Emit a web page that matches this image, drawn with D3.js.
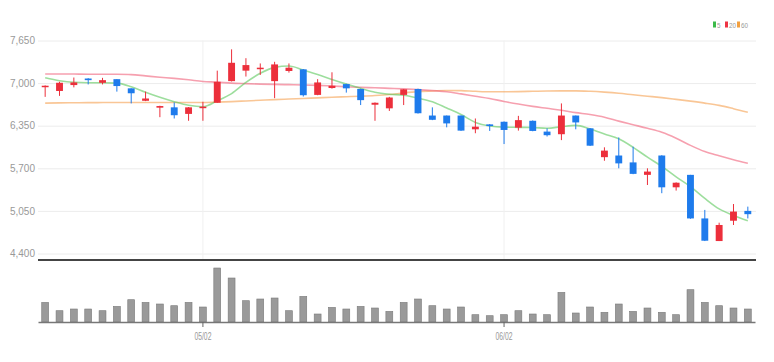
<!DOCTYPE html>
<html>
<head>
<meta charset="utf-8">
<script src="https://cdn.jsdelivr.net/npm/d3@7"></script>
<style>
  body { margin: 0; background: #fff; }
  text { font-family: "Liberation Sans", Arial, sans-serif; fill: #999; }
</style>
</head>
<body>
<div id="vis"></div>
<script>
// trading days
const DATES = ["04/14","04/17","04/18","04/19","04/20","04/21","04/24","04/25","04/26","04/27",
  "04/28","05/02","05/03","05/04","05/08","05/09","05/10","05/11","05/12","05/15",
  "05/16","05/17","05/18","05/19","05/22","05/23","05/24","05/25","05/26","05/30",
  "05/31","06/01","06/02","06/05","06/07","06/08","06/09","06/12","06/13","06/14",
  "06/15","06/16","06/19","06/20","06/21","06/22","06/23","06/26","06/27","06/28"];

const OPEN = [6940,6880,6970,7070,7005,7060,6920,6730,6625,6630,6530,6620,6700,7030,7190,7220,7030,7185,7210,6820,
  6925,6985,6910,6670,6615,6820,6910,6505,6505,6505,6295,6370,6410,6320,6425,6260,6220,6505,6310,5870,
  5895,5790,5600,5895,5410,5600,4935,4590,4900,5050];
const HIGH = [6965,7020,7085,7075,7080,7060,6920,6870,6655,6705,6635,6715,7190,7515,7380,7300,7325,7300,7215,7060,
  7165,6990,6915,6705,6790,6910,6915,6630,6505,6505,6460,6375,6415,6500,6430,6310,6690,6505,6315,6020,
  6170,6030,5700,5900,5485,5600,5065,4870,5155,5115];
const LOW = [6790,6805,6935,6980,6980,6870,6690,6725,6480,6460,6425,6425,6700,7025,7100,7125,6770,7160,6795,6815,
  6915,6855,6665,6425,6575,6665,6535,6435,6325,6270,6235,6270,6070,6275,6265,6185,6130,6295,6040,5815,
  5700,5610,5445,5320,5360,4930,4590,4590,4835,4935];
const CLOSE = [6960,7005,7010,7045,7045,6955,6845,6765,6650,6510,6630,6640,7020,7310,7275,7235,7285,7235,6815,7010,
  6960,6920,6740,6700,6780,6905,6540,6440,6385,6275,6335,6345,6285,6435,6270,6205,6505,6400,6045,5970,
  5775,5615,5650,5410,5480,4935,4595,4835,5040,5000];
const VOLUME = [196000,113000,130000,130000,113000,156000,223000,196000,180000,163000,196000,150000,540000,440000,213000,
  230000,240000,113000,256000,80000,146000,130000,156000,140000,106000,196000,230000,163000,130000,150000,
  73000,63000,73000,113000,80000,73000,296000,90000,150000,97000,180000,106000,140000,97000,73000,
  323000,196000,163000,140000,130000];

// moving averages
const MA5 = [7082,7037,7012,7005,7005,7000,6945,6860,6783,6716,6661,6640,6730,6840,7010,7150,7240,7262,7200,7130,
  7055,6985,6920,6860,6830,6815,6770,6716,6620,6520,6400,6345,6328,6325,6322,6310,6335,6355,6300,6225,
  6150,6020,5870,5730,5570,5420,5240,5080,4980,4900];
const MA20 = [7140,7140,7138,7136,7135,7134,7130,7110,7090,7072,7050,7025,7015,7000,6992,6985,6980,6976,6972,6965,
  6955,6945,6935,6928,6920,6912,6900,6885,6868,6835,6800,6765,6720,6680,6645,6615,6585,6550,6520,6480,
  6420,6365,6310,6250,6160,6050,5955,5890,5830,5775];
const MA60 = [6695,6698,6700,6702,6703,6704,6705,6705,6705,6704,6703,6703,6710,6718,6728,6738,6748,6757,6766,6775,
  6784,6792,6800,6810,6825,6850,6870,6880,6888,6885,6875,6868,6868,6870,6875,6880,6882,6882,6875,6862,
  6845,6822,6800,6778,6752,6725,6695,6660,6610,6555];

const PRICE_TICKS = [4400, 5050, 5700, 6350, 7000, 7650];
const DATE_TICKS = ["05/02", "06/02"];
const MA_NAMES = ["5", "20", "60"];

//Frame constants
const FRAME_WIDTH = 774;
const FRAME_HEIGHT = 362;
const LEFT = 38, RIGHT = 755;
const PRICE_TOP = 40.5, PRICE_BOTTOM = 253.5, PRICE_BASE = 260;
const VOL_TOP = 268, VOL_BOTTOM = 322;

const UP = "#ec2f3b", DOWN = "#1e7bec";
const MA_COLORS = ["#5cc85c", "#f0607a", "#f5a050"];
const LEGEND_COLORS = ["#3cba4a", "#ee3344", "#f2a040"];

const FRAME = d3.select("#vis")
                .append("svg")
                  .attr("width", FRAME_WIDTH)
                  .attr("height", FRAME_HEIGHT);

//Scales
const X_SCALE = d3.scaleBand()
                  .domain(DATES)
                  .range([LEFT, RIGHT]);
const STEP = X_SCALE.bandwidth();
const cx = (d) => { return X_SCALE(d) + STEP / 2; };
const BODY_W = STEP * 0.48;

const Y_SCALE = d3.scaleLinear()
                  .domain([4400, 7650])
                  .range([PRICE_BOTTOM, PRICE_TOP]);

const V_SCALE = d3.scaleLinear()
                  .domain([0, 540000])
                  .range([VOL_BOTTOM, VOL_TOP]);

//Price gridlines + labels
const yAxis = FRAME.append("g")
      .attr("transform", "translate(" + LEFT + ",0)")
      .call(d3.axisLeft(Y_SCALE)
              .tickValues(PRICE_TICKS)
              .tickFormat(d3.format(","))
              .tickSize(-(RIGHT + 1 - LEFT))
              .tickPadding(3));
yAxis.select(".domain").remove();
yAxis.selectAll("line").attr("stroke", "#ececec");
yAxis.selectAll("text")
      .attr("font-size", "10px")
      .style("fill", "#999");

//vertical gridlines at date ticks
FRAME.append("g")
      .selectAll("line")
      .data(DATE_TICKS)
      .enter()
      .append("line")
        .attr("x1", (d) => { return cx(d); })
        .attr("x2", (d) => { return cx(d); })
        .attr("y1", PRICE_TOP)
        .attr("y2", PRICE_BASE)
        .attr("stroke", "#f0f0f0");

//bottom border of price panel
FRAME.append("line")
      .attr("x1", LEFT).attr("x2", RIGHT + 1)
      .attr("y1", PRICE_BASE).attr("y2", PRICE_BASE)
      .attr("stroke", "#444")
      .attr("stroke-width", 2);

//Moving average lines
const MA_DATA = [MA5, MA20, MA60];
MA_DATA.slice().reverse().forEach((arr, k) => {
  const idx = MA_DATA.length - 1 - k;
  const line = d3.line()
                 .x((d, i) => { return cx(DATES[i]); })
                 .y((d) => { return Y_SCALE(d); })
                 .curve(d3.curveMonotoneX);
  FRAME.append("path")
        .attr("d", line(arr))
        .attr("fill", "none")
        .attr("stroke", MA_COLORS[idx])
        .attr("stroke-width", 1.6)
        .attr("opacity", 0.6);
});

//Candles
const colorOf = (i) => { return CLOSE[i] >= OPEN[i] ? UP : DOWN; };
const candles = FRAME.append("g")
      .selectAll("g")
      .data(DATES)
      .enter()
      .append("g");

candles.append("line")
      .attr("x1", (d) => { return cx(d); })
      .attr("x2", (d) => { return cx(d); })
      .attr("y1", (d, i) => { return Y_SCALE(HIGH[i]); })
      .attr("y2", (d, i) => { return Y_SCALE(LOW[i]); })
      .attr("stroke", (d, i) => { return colorOf(i); })
      .attr("stroke-width", 1);

candles.append("rect")
      .attr("x", (d) => { return cx(d) - BODY_W / 2; })
      .attr("y", (d, i) => { return Y_SCALE(Math.max(OPEN[i], CLOSE[i])); })
      .attr("width", BODY_W)
      .attr("height", (d, i) => { return Math.max(1.5, Math.abs(Y_SCALE(OPEN[i]) - Y_SCALE(CLOSE[i]))); })
      .attr("fill", (d, i) => { return colorOf(i); });

//Volume bars
FRAME.append("g")
      .selectAll("rect")
      .data(DATES)
      .enter()
      .append("rect")
        .attr("x", (d) => { return cx(d) - BODY_W / 2; })
        .attr("y", (d, i) => { return V_SCALE(VOLUME[i]); })
        .attr("width", BODY_W)
        .attr("height", (d, i) => { return VOL_BOTTOM - V_SCALE(VOLUME[i]); })
        .attr("fill", "#9a9a9a")
        .attr("stroke", "#7a7a7a")
        .attr("stroke-width", 0.6);

//X axis
const xAxis = FRAME.append("g")
      .attr("transform", "translate(0," + VOL_BOTTOM + ")")
      .call(d3.axisBottom(X_SCALE)
              .tickValues(DATE_TICKS)
              .tickSize(5)
              .tickPadding(5)
              .tickSizeOuter(0));
xAxis.select(".domain")
      .attr("stroke", "#777")
      .attr("stroke-width", 1.5);
xAxis.selectAll("line").attr("stroke", "#666");
xAxis.selectAll("text")
      .attr("font-size", "11px")
      .attr("textLength", 17)
      .attr("lengthAdjust", "spacingAndGlyphs")
      .style("fill", "#999");

//Legend
const LEG_X = [713, 725, 737];
const legend = FRAME.append("g");
MA_NAMES.forEach((name, i) => {
  legend.append("rect")
        .attr("x", LEG_X[i]).attr("y", 21.5)
        .attr("width", 3).attr("height", 6)
        .attr("fill", LEGEND_COLORS[i]);
  legend.append("text")
        .attr("x", LEG_X[i] + 4).attr("y", 27.5)
        .attr("font-size", "8px")
        .attr("textLength", name.length * 3.5)
        .attr("lengthAdjust", "spacingAndGlyphs")
        .text(name);
});
</script>
</body>
</html>
